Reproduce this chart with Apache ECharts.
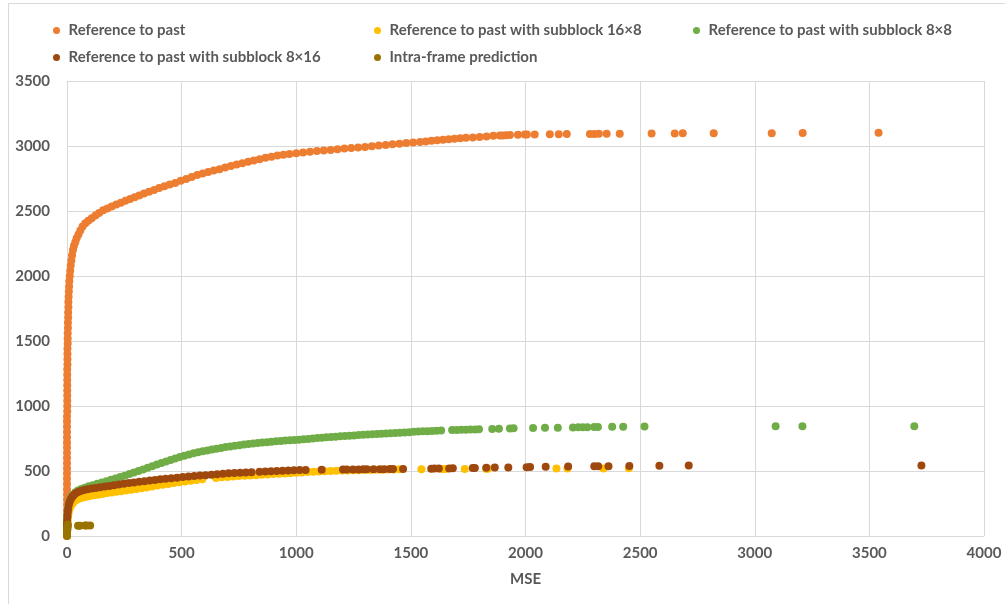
<!DOCTYPE html>
<html>
<head>
<meta charset="utf-8">
<script src="https://cdn.jsdelivr.net/npm/echarts@6/dist/echarts.min.js"></script>
<style>
  html, body { margin: 0; padding: 0; background: #ffffff; }
  #chart { width: 1005px; height: 604px; }
</style>
</head>
<body>
<div id="chart"></div>
<script>
// Series names (legend order)
const seriesNames = [
  'Reference to past',
  'Reference to past with subblock 16×8',
  'Reference to past with subblock 8×8',
  'Reference to past with subblock 8×16',
  'Intra-frame prediction'
];

// Axis ticks
const xTicks = [0, 500, 1000, 1500, 2000, 2500, 3000, 3500, 4000];
const yTicks = [0, 500, 1000, 1500, 2000, 2500, 3000, 3500];

// [MSE, value] points per series
const refPast = [
  [0,0],[0,40],[0,80],[0,120],[0,160],[0,200],[0,240],[0,280],[0,320],[0,360],[0,400],[0,440],
  [0,480],[0,520],[0,560],[0,600],[0,640],[0,680],[0,720],[0,760],[0,800],[0,840],[0,880],[0,920],
  [1,960],[1,1000],[1,1040],[1,1080],[1,1120],[1,1160],[1,1200],[1,1240],[1,1280],
  [2,1320],[2,1360],[2,1400],[2,1440],[3,1480],[3,1520],[3,1560],[4,1600],[4,1640],
  [5,1680],[5,1720],[6,1760],[6,1800],[7,1840],[8,1880],[9,1920],[10,1960],[12,2000],
  [14,2040],[16,2080],[19,2120],[22,2160],[26,2200],[30,2230],[36,2260],[42,2290],[50,2320],
  [58,2350],[68,2380],[80,2405],[93,2425],[108,2445],[124,2465],[140,2485],[158,2505],
  [176,2520],[195,2535],[215,2550],[235,2563],[255,2578],[275,2592],[295,2606],[315,2620],
  [336,2634],[358,2648],[380,2662],[402,2676],[425,2690],[448,2703],[472,2716],[496,2733],
  [520,2746],[544,2761],[568,2776],[592,2788],[616,2800],[640,2811],[665,2822],[690,2834],
  [715,2846],[740,2858],[765,2868],[790,2878],[815,2888],[840,2898],[866,2910],[892,2918],
  [918,2926],[944,2932],[970,2938],[1000,2945],[1030,2950],[1060,2956],[1090,2961],[1120,2966],
  [1150,2970],[1180,2975],[1210,2980],[1240,2984],[1270,2989],[1300,2993],[1330,2998],
  [1360,3003],[1390,3008],[1420,3013],[1450,3018],[1480,3023],[1510,3027],[1540,3031],
  [1565,3035],[1590,3040],[1615,3044],[1640,3048],[1665,3052],[1690,3056],[1715,3060],
  [1740,3063],[1770,3066],[1800,3070],[1830,3074],[1860,3078],[1888,3080],[1900,3081],
  [1915,3083],[1932,3085],[1967,3086],[1997,3088],[2006,3088],[2040,3089],[2106,3090],
  [2145,3091],[2180,3092],[2281,3093],[2300,3093],[2320,3094],[2354,3094],[2411,3095],
  [2550,3097],[2651,3097],[2686,3098],[2821,3098],[3074,3099],[3209,3100],[3540,3101]
];

const sub16x8 = [
  [0,20],[0,50],[1,80],[2,110],[4,140],[6,170],[9,195],[13,215],[18,235],[24,250],[32,265],
  [42,278],[55,288],[70,296],[85,302],[100,307],[118,313],[136,318],[155,324],[175,330],
  [195,335],[215,340],[236,345],[258,350],[280,356],[302,362],[325,368],[348,374],[371,380],
  [394,388],[418,394],[442,400],[466,407],[490,413],[515,419],[540,425],[565,430],[590,436],
  [650,447],[675,451],[700,454],[725,458],[750,461],[775,464],[800,466],[825,468],[850,471],
  [875,473],[900,476],[925,478],[950,480],[975,483],[1000,486],[1025,489],[1050,492],
  [1075,494],[1100,496],[1125,498],[1150,500],[1175,502],[1200,503],[1225,504],[1250,505],
  [1275,506],[1300,507],[1325,508],[1350,509],[1375,510],[1400,511],[1425,512],[1450,513],
  [1546,514],[1635,515],[1650,515],[1735,516],[1828,517],[1836,517],[2135,519],[2183,519],
  [2340,520],[2451,521]
];

const sub8x8 = [
  [0,100],[0,130],[1,160],[3,190],[5,220],[8,250],[12,275],[18,298],[26,318],[36,335],
  [48,350],[62,362],[78,372],[95,382],[113,391],[132,401],[152,411],[172,422],[192,432],
  [212,443],[232,454],[252,464],[272,476],[292,488],[312,500],[332,512],[352,525],[372,537],
  [392,550],[412,562],[432,573],[452,585],[472,596],[492,607],[512,617],[532,627],[552,636],
  [572,644],[592,651],[612,658],[632,665],[652,671],[672,677],[692,684],[712,689],[732,694],
  [752,699],[772,703],[792,707],[812,711],[832,715],[852,719],[872,722],[892,725],[912,728],
  [932,731],[952,734],[972,736],[992,739],[1012,741],[1032,744],[1052,747],[1072,750],
  [1092,753],[1112,756],[1132,759],[1152,762],[1172,764],[1192,767],[1212,769],[1232,771],
  [1252,774],[1272,776],[1292,778],[1312,781],[1332,783],[1352,785],[1372,787],[1392,789],
  [1412,791],[1432,793],[1452,795],[1472,797],[1492,799],[1512,801],[1532,803],[1552,805],
  [1572,806],[1592,808],[1612,810],[1632,812],[1680,815],[1700,816],[1720,817],[1740,818],
  [1760,819],[1780,820],[1797,821],[1855,824],[1884,825],[1932,827],[1948,828],[2033,830],
  [2085,832],[2141,833],[2207,835],[2230,836],[2250,836],[2270,837],[2300,838],[2316,838],
  [2378,840],[2426,841],[2519,842],[3091,845],[3208,845],[3696,845]
];

const sub8x16 = [
  [0,60],[0,90],[1,120],[2,150],[3,180],[5,210],[8,240],[12,265],[17,285],[23,302],[30,316],
  [38,328],[48,338],[60,346],[74,353],[90,359],[108,365],[126,370],[145,375],[165,380],
  [185,385],[205,390],[226,396],[248,402],[270,407],[292,412],[315,417],[338,421],[361,426],
  [384,431],[407,436],[430,440],[455,445],[480,449],[505,453],[530,457],[555,461],[580,465],
  [605,468],[630,472],[655,475],[680,479],[705,482],[730,484],[755,486],[780,488],[805,490],
  [840,494],[865,496],[890,498],[915,500],[940,502],[965,504],[990,505],[1015,507],[1041,508],
  [1111,510],[1204,511],[1220,511],[1247,512],[1271,512],[1292,513],[1308,513],[1337,513],
  [1365,514],[1384,514],[1409,515],[1422,515],[1466,516],[1589,518],[1603,519],[1622,519],
  [1667,520],[1683,521],[1770,524],[1779,524],[1829,525],[1866,526],[1925,527],[2005,529],
  [2020,530],[2088,532],[2186,534],[2300,536],[2317,536],[2362,537],[2453,538],[2584,540],
  [2712,542],[3727,542]
];

const intraFrame = [
  [0,0],[0,12],[0,25],[1,38],[1,50],[2,62],[3,75],[4,88],[48,78],[56,78],[79,80],[85,80],[101,80]
];

const seriesData = [refPast, sub16x8, sub8x8, sub8x16, intraFrame];
const seriesColors = ['#ED7D31', '#FFC000', '#70AD47', '#9E480E', '#997300'];

const textStyle = { fontFamily: 'Lato, "Open Sans", sans-serif', fontSize: 15, fontWeight: 'bold', color: '#595959' };

// legend slots: two rows, three columns
const legendSlots = [[48, 18], [369, 18], [688, 18], [48, 45], [369, 45]];

const chart = echarts.init(document.getElementById('chart'), null, { renderer: 'canvas' });

chart.setOption({
  animation: false,
  backgroundColor: '#ffffff',
  graphic: [{
    type: 'rect',
    shape: { x: 8.5, y: 3.5, width: 1010, height: 610 },
    style: { fill: null, stroke: '#d9d9d9', lineWidth: 1 },
    silent: true
  }],
  legend: seriesNames.map((name, i) => ({
    data: [name],
    left: legendSlots[i][0],
    top: legendSlots[i][1],
    icon: 'circle',
    itemWidth: 14,
    itemHeight: 7,
    itemGap: 0,
    textStyle: Object.assign({}, textStyle),
    selectedMode: false
  })),
  grid: { left: 67, right: 21, top: 81, bottom: 68, containLabel: false },
  xAxis: {
    type: 'value',
    min: xTicks[0],
    max: xTicks[xTicks.length - 1],
    interval: xTicks[1] - xTicks[0],
    name: 'MSE',
    nameLocation: 'middle',
    nameGap: 36,
    nameTextStyle: Object.assign({}, textStyle),
    axisLine: { show: true, lineStyle: { color: '#d9d9d9', width: 1 } },
    axisTick: { show: false },
    axisLabel: Object.assign({ margin: 10, formatter: v => String(v) }, textStyle),
    splitLine: { show: true, lineStyle: { color: '#d9d9d9', width: 1 } }
  },
  yAxis: {
    type: 'value',
    min: yTicks[0],
    max: yTicks[yTicks.length - 1],
    interval: yTicks[1] - yTicks[0],
    axisLine: { show: false },
    axisTick: { show: false },
    axisLabel: Object.assign({ margin: 17, formatter: v => String(v) }, textStyle),
    splitLine: { show: true, lineStyle: { color: '#d9d9d9', width: 1 } }
  },
  series: seriesNames.map((name, i) => ({
    name: name,
    type: 'scatter',
    data: seriesData[i],
    symbol: 'circle',
    symbolSize: 8,
    itemStyle: { color: seriesColors[i], opacity: 1 },
    z: 2 + i,
    clip: false
  }))
});
</script>
</body>
</html>
